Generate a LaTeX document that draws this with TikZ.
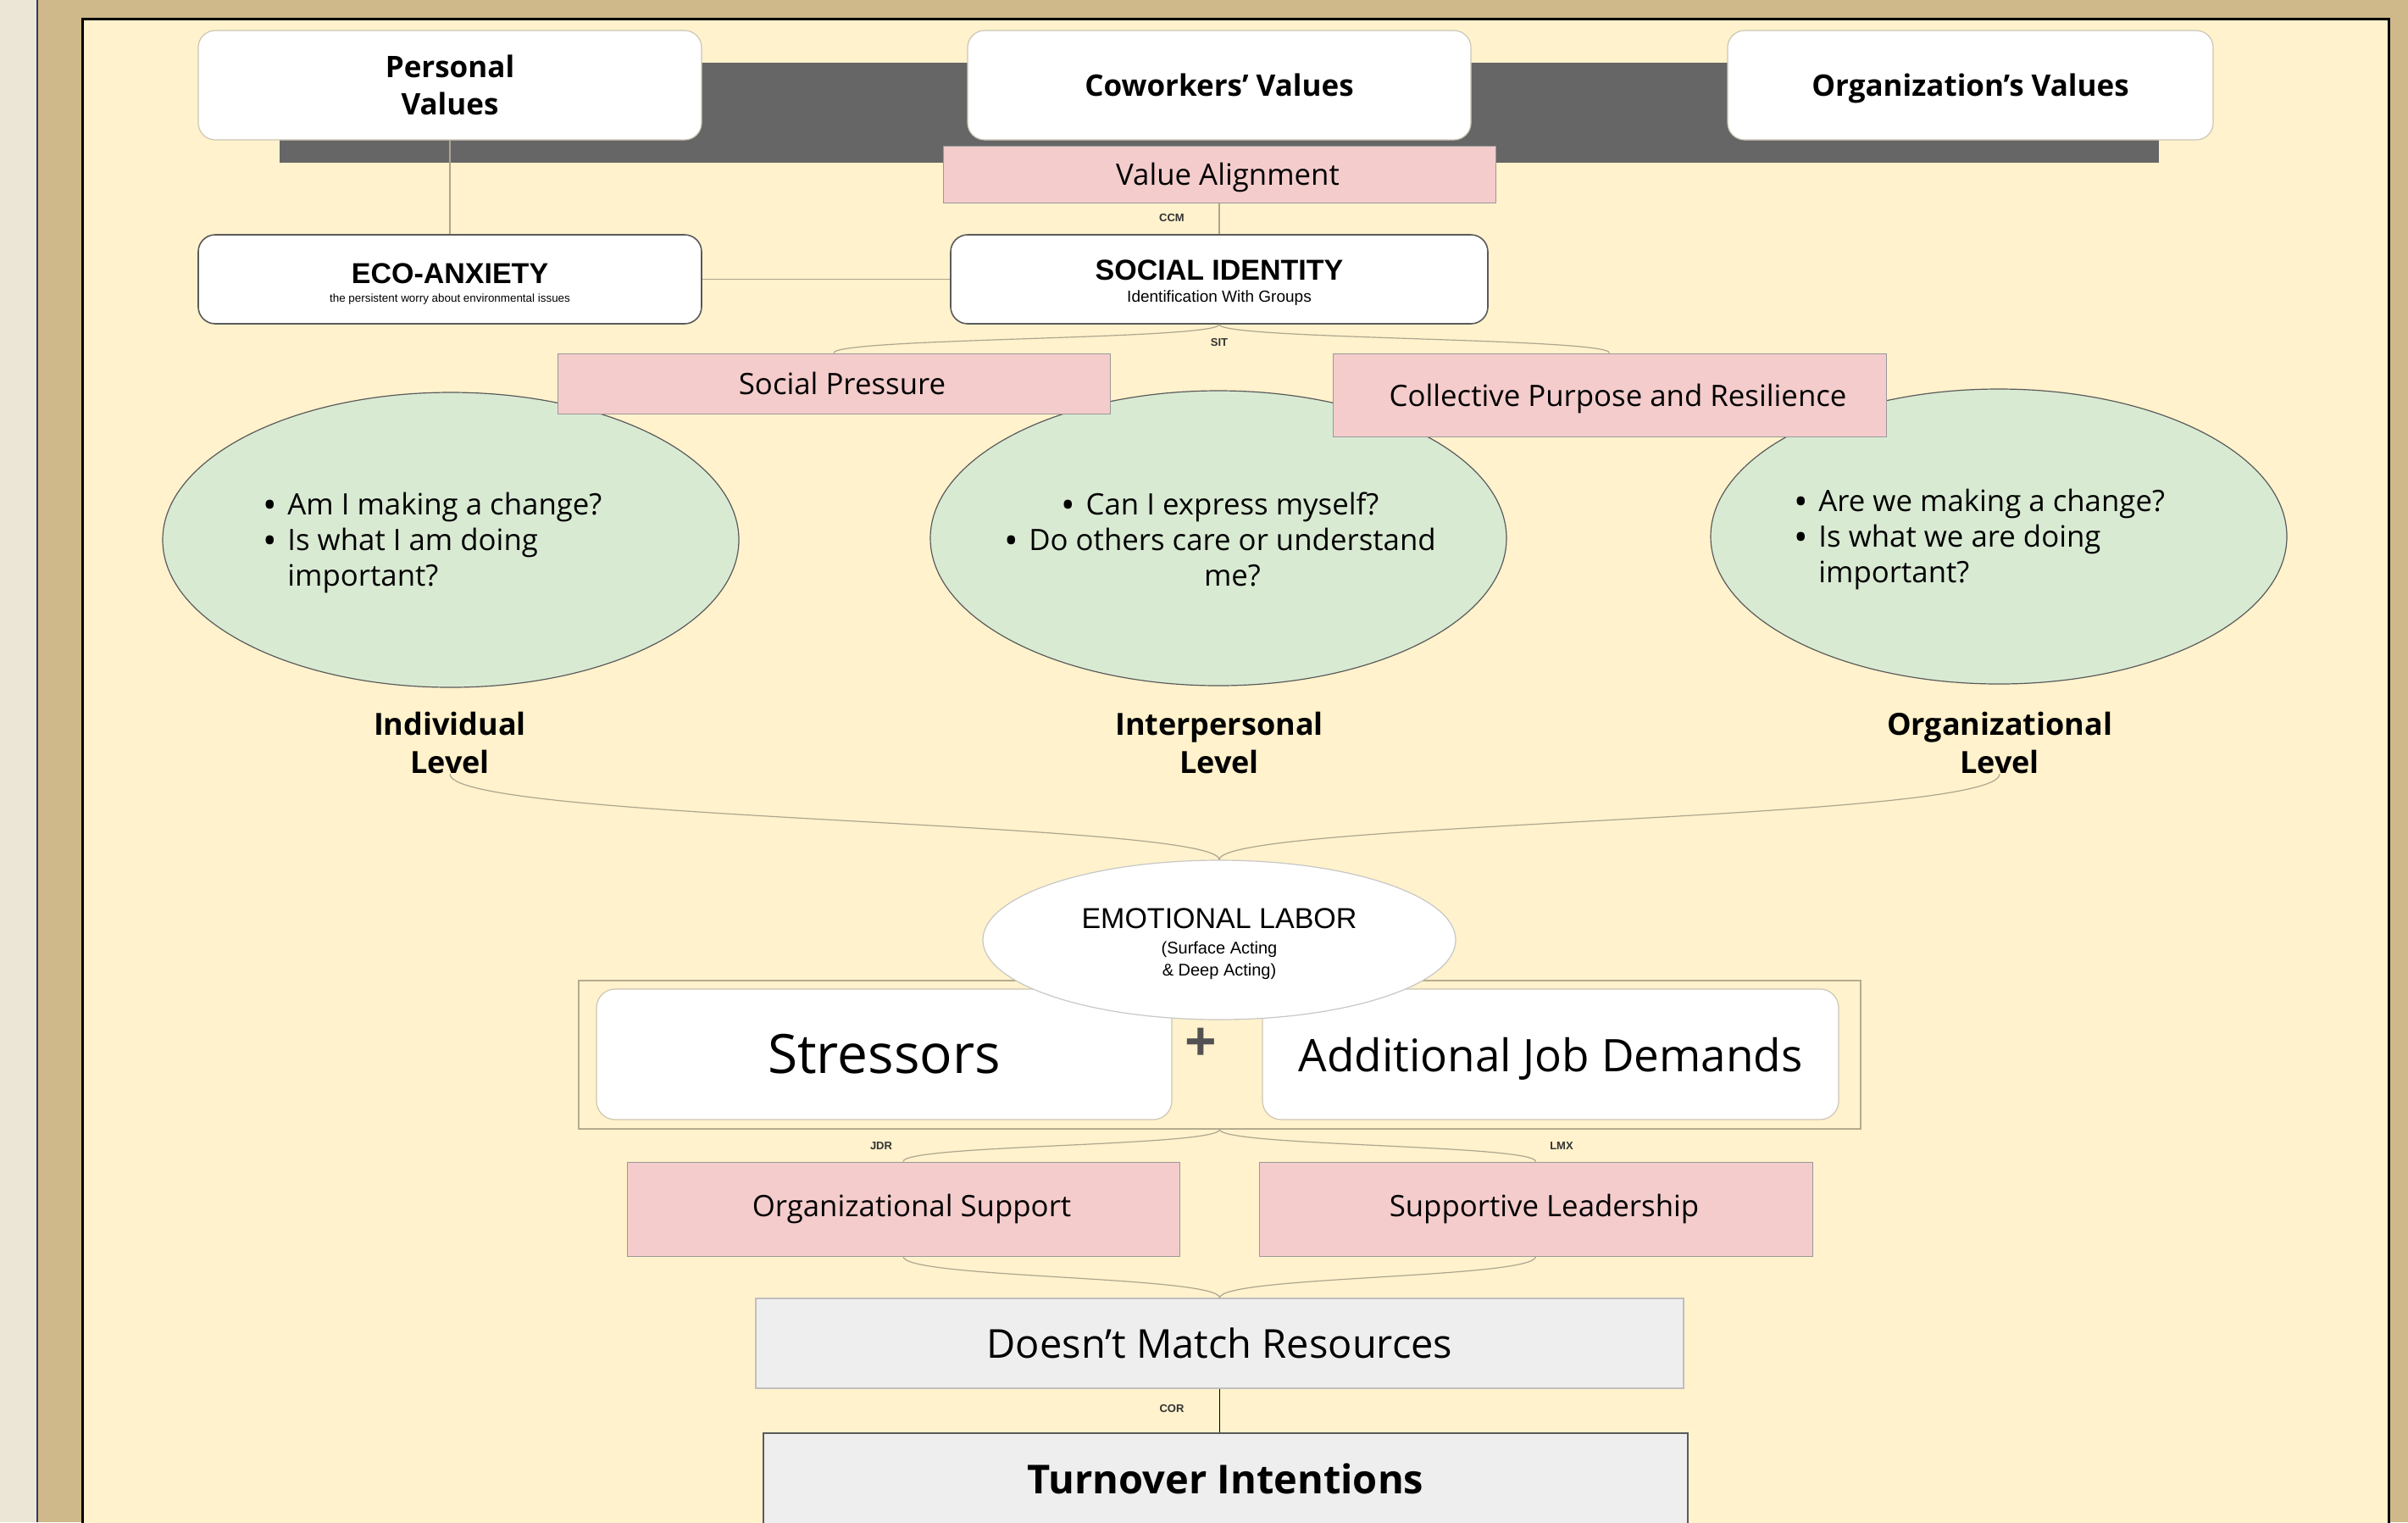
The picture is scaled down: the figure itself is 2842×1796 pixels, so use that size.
\documentclass[tikz,border=0pt]{standalone}
\usepackage{fontspec}
\setmainfont{Open Sans}
\newfontfamily\arialf{Liberation Sans}
\usetikzlibrary{shapes.geometric}
\definecolor{cream}{HTML}{FFF2CC}
\definecolor{tanframe}{HTML}{CFB98A}
\definecolor{stripc}{HTML}{ECE6D6}
\definecolor{navyc}{HTML}{2E3B63}
\definecolor{bargray}{HTML}{666666}
\definecolor{pinkf}{HTML}{F4CCCC}
\definecolor{greenf}{HTML}{D9EAD3}
\definecolor{lgrayf}{HTML}{EEEEEE}
\definecolor{connc}{HTML}{ADA68F}
\definecolor{dborder}{HTML}{5A5A5A}
\definecolor{lborder}{HTML}{CCC6B4}
\definecolor{grpborder}{HTML}{B5AC8F}
\newcommand\mybul{\makebox[14.5pt][l]{\raisebox{-2pt}[0pt][0pt]{\fontsize{22}{20}\selectfont •}}}
\begin{document}
\begin{tikzpicture}[x=0.5pt,y=-0.5pt,
  valbox/.style={draw=lborder, fill=white, rounded corners=10pt, line width=0.6pt, minimum height=64.5pt, inner sep=0pt, align=center, font=\bfseries\fontsize{17.5}{22}\selectfont},
  pinkbox/.style={draw=black!40, fill=pinkf, line width=0.5pt, inner sep=0pt, font=\fontsize{17.4}{21}\selectfont, execute at begin node={\hspace*{10pt}}},
  idbox/.style={draw=dborder, fill=white, rounded corners=10pt, line width=0.8pt, minimum height=52.5pt, inner sep=0pt},
  ell/.style={ellipse, draw=dborder, fill=greenf, line width=0.6pt, minimum width=340pt, minimum height=174pt, inner sep=0pt},
  qtext/.style={inner sep=0pt, font=\fontsize{17.4}{21}\selectfont},
  lvl/.style={inner sep=0pt, align=center, font=\bfseries\fontsize{18}{22.5}\selectfont},
  wbox/.style={draw=lborder, fill=white, rounded corners=11pt, line width=0.6pt, minimum height=77pt, inner sep=0pt},
  lab/.style={inner sep=0pt, text=black!80, font=\arialf\bfseries\fontsize{6.5}{7}\selectfont},
  conn/.style={draw=connc, line width=0.6pt},
]
\useasboundingbox (0,0) rectangle (2842,1796);
% frame
\fill[stripc] (0,0) rectangle (2842,1796);
\fill[tanframe] (44,0) rectangle (2842,1796);
\draw[navyc, line width=1pt] (44,0) -- (44,1796);
\filldraw[fill=cream, draw=black, line width=1.5pt] (97,22) rectangle (2819,1830);

% top row
\node[fill=bargray, minimum width=1109pt, minimum height=59pt, inner sep=0pt] (bar) at (1439,133) {};
\node[valbox, minimum width=297pt] (pv) at (531,100.5) {Personal\\Values};
\node[valbox, minimum width=297pt] (cv) at (1439,100.5) {Coworkers’ Values};
\node[valbox, minimum width=286.5pt, text depth=0pt] (ov) at (2325.5,100.5) {Organization’s Values};
\node[pinkbox, minimum width=326pt, minimum height=33.5pt, text depth=0pt] (va) at (1439,205.5) {Value Alignment};

% identity row
\node[idbox, minimum width=297pt] (eco) at (531,329.5) {};
\node[idbox, minimum width=317pt] (si) at (1439,329.5) {};
\node[inner sep=0pt, font=\arialf\bfseries\fontsize{17}{20}\selectfont] (ecot) at (531,323) {ECO-ANXIETY};
\node[inner sep=0pt, font=\arialf\fontsize{6.7}{8}\selectfont] (ecos) at (531,353) {the persistent worry about environmental issues};
\node[inner sep=0pt, font=\arialf\bfseries\fontsize{17}{20}\selectfont] (sit) at (1439,319) {SOCIAL IDENTITY};
\node[inner sep=0pt, font=\arialf\fontsize{9.5}{11}\selectfont] (sis) at (1439,352) {Identification With Groups};

\draw[conn] (pv.south) -- (eco.north);
\draw[conn] (va.south) -- (si.north);
\draw[conn] (eco.east) -- (si.west);
\node[lab] (lccm) at (1383,257) {CCM};

% ellipses
\node[ell] (e1) at (532,637) {};
\node[ell] (e2) at (1438,635) {};
\node[ell] (e3) at (2359,633) {};
\node[qtext, anchor=west, align=left] (t1) at (310,640) {\mybul Am I making a change?\\\mybul Is what I am doing\\\hspace*{14.5pt}important?};
\node[qtext, align=center] (t2) at (1440,636) {\mybul Can I express myself?\\\mybul Do others care or understand\\\hspace*{14.5pt}me?};
\node[qtext, anchor=west, align=left] (t3) at (2117,636) {\mybul Are we making a change?\\\mybul Is what we are doing\\\hspace*{14.5pt}important?};

\node[pinkbox, minimum width=326pt, minimum height=35.5pt] (sp) at (984,452.5) {Social Pressure};
\node[pinkbox, minimum width=326.5pt, minimum height=49pt, text depth=0pt] (cp) at (1899.5,466) {Collective Purpose and Resilience};
\draw[conn] (si.south) .. controls +(0,18) and +(0,-18) .. (sp.north);
\draw[conn] (si.south) .. controls +(0,18) and +(0,-18) .. (cp.north);
\node[lab] (lsit) at (1439,404) {SIT};

% levels
\node[lvl] (lind) at (531,876.5) {Individual\\Level};
\node[lvl] (lint) at (1439,876.5) {Interpersonal\\Level};
\node[lvl] (lorg) at (2360,876.5) {Organizational\\Level};

% demands group
\node[draw=grpborder, line width=0.6pt, minimum width=756.5pt, minimum height=87.5pt, inner sep=0pt] (grp) at (1439.5,1244.5) {};
\node[wbox, minimum width=339.5pt, font=\fontsize{32}{36}\selectfont] (str) at (1043.5,1244) {Stressors};
\node[wbox, minimum width=340pt, text depth=0pt, font=\fontsize{26.5}{30}\selectfont] (ajd) at (1830,1244) {Additional Job Demands};
\node[inner sep=0pt, text=black!68, font=\bfseries\fontsize{33}{33}\selectfont] (plus) at (1417,1233) {+};

% emotional labor
\node[ellipse, draw=black!22, fill=white, line width=0.6pt, minimum width=279pt, minimum height=94pt, inner sep=0pt] (el) at (1439,1109) {};
\node[inner sep=0pt, font=\arialf\fontsize{17}{20}\selectfont] (elt) at (1439,1084) {EMOTIONAL LABOR};
\node[inner sep=0pt, align=center, font=\arialf\fontsize{10}{13}\selectfont] (els) at (1439,1133) {(Surface Acting\\\& Deep Acting)};
\draw[conn] (lind.south) .. controls +(0,55) and +(0,-45) .. (el.north);
\draw[conn] (lorg.south) .. controls +(0,55) and +(0,-45) .. (el.north);

% resources
\node[pinkbox, minimum width=326pt, minimum height=55.5pt] (os) at (1066,1426.5) {Organizational Support};
\node[pinkbox, minimum width=326.5pt, minimum height=55.5pt] (sl) at (1812.5,1426.5) {Supportive Leadership};
\draw[conn] (grp.south) .. controls +(0,20) and +(0,-20) .. (os.north);
\draw[conn] (grp.south) .. controls +(0,20) and +(0,-20) .. (sl.north);
\node[lab] (ljdr) at (1040,1352) {JDR};
\node[lab] (llmx) at (1843,1352) {LMX};

\node[draw=black!25, fill=lgrayf, line width=0.6pt, minimum width=547.5pt, minimum height=53pt, inner sep=0pt, font=\fontsize{23.5}{28}\selectfont] (dmr) at (1439.5,1585) {Doesn’t Match Resources};
\draw[conn] (os.south) .. controls +(0,26) and +(0,-26) .. (dmr.north);
\draw[conn] (sl.south) .. controls +(0,26) and +(0,-26) .. (dmr.north);

\node[draw=dborder, fill=lgrayf, line width=0.8pt, anchor=north, minimum width=545.5pt, minimum height=60pt, text depth=6pt, inner sep=0pt, font=\bfseries\fontsize{23.5}{28}\selectfont] (ti) at (1446.5,1690) {Turnover Intentions};
\draw[black, line width=0.7pt] (dmr.south) -- (dmr.south |- ti.north);
\node[lab] (lcor) at (1383,1662) {COR};
\end{tikzpicture}
\end{document}
